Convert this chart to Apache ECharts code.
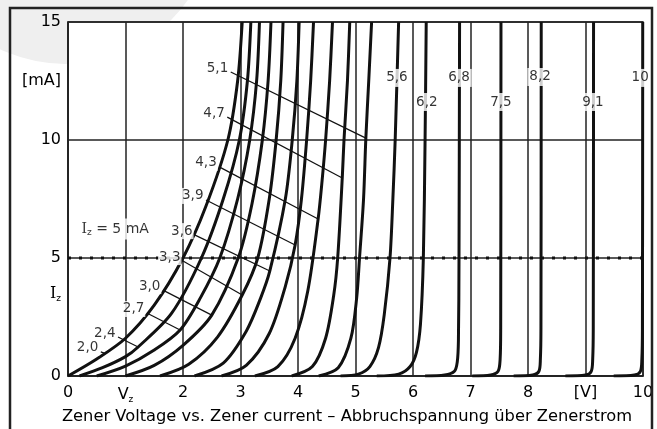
<!DOCTYPE html>
<html>
<head>
<meta charset="utf-8">
<script src="https://cdn.jsdelivr.net/npm/echarts@6/dist/echarts.min.js"></script>
<style>
  html, body { margin: 0; padding: 0; background: #fff; }
  #chart { width: 657px; height: 429px; }
</style>
</head>
<body>
<div id="chart"></div>
<script>
// Zener curves, points as [voltage V, current mA]
const zenerNames = ['2,0', '2,4', '2,7', '3,0', '3,3', '3,6', '3,9', '4,3', '4,7', '5,1',
                    '5,6', '6,2', '6,8', '7,5', '8,2', '9,1', '10'];
const zener20 = [[0, 0], [0.5, 0.72], [1, 1.6], [1.5, 3.0], [2, 5], [2.4, 7.2], [2.78, 10], [2.95, 12.5], [3.03, 15]];
const zener24 = [[0.2, 0], [0.6, 0.35], [1, 0.82], [1.22, 1.23], [1.8, 2.65], [2.32, 5], [2.7, 7.5], [2.98, 10], [3.12, 12.5], [3.18, 15]];
const zener27 = [[0.5, 0], [1, 0.42], [1.5, 1.1], [1.95, 1.95], [2.3, 3.3], [2.64, 5], [2.95, 7.5], [3.16, 10], [3.28, 12.5], [3.33, 15]];
const zener30 = [[1.0, 0], [1.5, 0.45], [2, 1.3], [2.5, 2.58], [2.96, 5], [3.2, 7.3], [3.38, 10], [3.48, 12.5], [3.53, 15]];
const zener33 = [[1.6, 0], [2.1, 0.5], [2.6, 1.65], [3.03, 3.43], [3.3, 5], [3.5, 7.5], [3.62, 10], [3.7, 12.5], [3.74, 15]];
const zener36 = [[2.2, 0], [2.7, 0.55], [3.1, 1.9], [3.35, 3.3], [3.51, 4.45], [3.78, 7.5], [3.9, 10], [3.98, 12.5], [4.02, 15]];
const zener39 = [[2.67, 0], [3.1, 0.45], [3.5, 1.8], [3.78, 3.8], [3.95, 5.55], [4.06, 7.5], [4.15, 10], [4.22, 12.5], [4.27, 15]];
const zener43 = [[3.25, 0], [3.65, 0.4], [3.95, 1.6], [4.17, 3.6], [4.35, 6.65], [4.42, 8.3], [4.48, 10], [4.55, 12.5], [4.6, 15]];
const zener47 = [[3.89, 0], [4.25, 0.4], [4.48, 1.6], [4.62, 3.4], [4.69, 5], [4.77, 8.4], [4.8, 10], [4.86, 12.5], [4.9, 15]];
const zener51 = [[4.36, 0], [4.7, 0.35], [4.92, 1.6], [5.02, 3.3], [5.07, 5], [5.14, 7.5], [5.18, 10.08], [5.23, 12.5], [5.28, 15]];
const zener56 = [[4.74, 0], [5.05, 0.08], [5.25, 0.4], [5.4, 1.2], [5.5, 2.6], [5.6, 5], [5.65, 7.5], [5.69, 10], [5.75, 15]];
const zener62 = [[5.37, 0], [5.75, 0.08], [5.95, 0.4], [6.06, 1.0], [6.13, 2.2], [6.18, 5], [6.21, 10], [6.23, 15]];
const zener68 = [[6.21, 0], [6.55, 0.04], [6.72, 0.2], [6.77, 0.6], [6.79, 1.5], [6.8, 5], [6.81, 15]];
const zener75 = [[7.03, 0], [7.35, 0.04], [7.48, 0.2], [7.515, 0.7], [7.525, 2], [7.53, 15]];
const zener82 = [[7.75, 0], [8.08, 0.04], [8.19, 0.2], [8.215, 0.7], [8.225, 2], [8.23, 15]];
const zener91 = [[8.65, 0], [9.0, 0.04], [9.1, 0.2], [9.125, 0.7], [9.135, 2], [9.14, 15]];
const zener100 = [[9.49, 0], [9.85, 0.04], [9.955, 0.2], [9.98, 0.7], [9.99, 2], [9.995, 15]];
const zenerCurves = [zener20, zener24, zener27, zener30, zener33, zener36, zener39, zener43, zener47, zener51,
                     zener56, zener62, zener68, zener75, zener82, zener91, zener100];

// slanted pointer lines of the low voltage curves: from the label to the curve
const pointerFrom = [[0.57, 1.02], [0.87, 1.65], [1.37, 2.67], [1.65, 3.64], [2.0, 4.87],
                     [2.21, 5.97], [2.40, 7.46], [2.63, 8.86], [2.77, 10.97], [2.83, 12.88]];
const pointerTo = [[0.63, 0.97], [1.22, 1.23], [1.95, 1.95], [2.5, 2.58], [3.03, 3.43],
                   [3.51, 4.45], [3.95, 5.55], [4.35, 6.65], [4.77, 8.39], [5.18, 10.08]];
// labels of the steep curves (5,6 ... 10), sitting on the curve
const steepLabelAt = [[5.72, 12.63], [6.24, 11.61], [6.8, 12.63], [7.53, 11.61], [8.21, 12.67], [9.13, 11.61], [9.95, 12.63]];

const izLevel = 5;
const izLabelAt = [0.82, 6.23];
const xTickLabels = ['0', 'Vz', '2', '3', '4', '5', '6', '7', '8', '[V]', '10'];
const yTickLabels = { 0: '0', 3.5: 'Iz', 5: '5', 10: '10', 12.5: '[mA]', 15: '15' };

const font = 'DejaVu Sans';
const ink = '#000';
const subRich = {
  v: { fontSize: 16, fontFamily: font, color: ink },
  i: { fontSize: 16, fontFamily: 'DejaVu Serif', color: ink },
  s: { fontSize: 9, fontFamily: font, color: ink, padding: [10, 0, 0, 0] }
};

let myChart = echarts.init(document.getElementById('chart'));

let series = zenerCurves.map(function (pts, i) {
  return {
    name: zenerNames[i],
    type: 'line',
    data: pts,
    smooth: 0.3,
    showSymbol: false,
    lineStyle: { color: '#111', width: 3 },
    z: 3
  };
});

// dotted Iz = 5 mA line
series.push({
  type: 'line',
  data: [[0, izLevel], [10, izLevel]],
  showSymbol: false,
  lineStyle: { color: '#111', width: 3, type: [3, 8] },
  z: 4
});

series.push({
  type: 'lines',
  coordinateSystem: 'cartesian2d',
  data: pointerFrom.map(function (p, i) { return { coords: [p, pointerTo[i]] }; }),
  lineStyle: { color: '#111', width: 1.2, opacity: 1 },
  z: 5
});

series.push({
  type: 'scatter',
  symbolSize: 1,
  itemStyle: { color: 'transparent' },
  data: pointerFrom.map(function (p, i) { return { value: p, name: zenerNames[i] }; }),
  label: {
    show: true, position: 'left', distance: 1, offset: [0, -4],
    formatter: '{b}', fontFamily: font, fontSize: 13.5, color: ink,
    backgroundColor: '#fff', padding: [1, 1]
  },
  z: 6
});

series.push({
  type: 'scatter',
  symbolSize: 1,
  itemStyle: { color: 'transparent' },
  data: steepLabelAt.map(function (p, i) { return { value: p, name: zenerNames[10 + i] }; }),
  label: {
    show: true, position: 'inside',
    formatter: '{b}', fontFamily: font, fontSize: 13.5, color: ink,
    textBorderWidth: 0, backgroundColor: '#fff', padding: [2, 2]
  },
  z: 6
});

series.push({
  type: 'scatter',
  symbolSize: 1,
  itemStyle: { color: 'transparent' },
  data: [{ value: izLabelAt }],
  label: {
    show: true, position: 'inside', textBorderWidth: 0,
    formatter: '{i|I}{s|z}{t| = 5 mA}', rich: {
      i: { fontSize: 14, fontFamily: 'DejaVu Serif', color: ink },
      s: { fontSize: 9, fontFamily: font, color: ink, padding: [8, 0, 0, 0] },
      t: { fontSize: 14, fontFamily: font, color: ink }
    },
    backgroundColor: '#fff', padding: [2, 4]
  },
  z: 6
});

let option = {
  animation: false,
  title: {
    text: 'Zener Voltage vs. Zener current – Abbruchspannung über Zenerstrom',
    left: 342, top: 404, textAlign: 'center',
    textStyle: { fontFamily: font, fontSize: 16.3, fontWeight: 'normal', color: ink }
  },
  graphic: [
    { type: 'circle', shape: { cx: 65, cy: -86, r: 150 }, style: { fill: '#efefef' }, z: -100, silent: true },
    { type: 'rect', shape: { x: 10, y: 8, width: 642, height: 440 }, style: { fill: 'none', stroke: '#222', lineWidth: 2.5 }, z: 100, silent: true }
  ],
  grid: {
    left: 68, top: 22, right: 14, bottom: 53,
    show: true, backgroundColor: '#fff', borderColor: '#222', borderWidth: 1.5
  },
  xAxis: {
    type: 'value', min: 0, max: 10, interval: 1,
    axisLine: { show: true, lineStyle: { color: '#222', width: 1.5 } },
    axisTick: { show: false },
    splitLine: { show: true, lineStyle: { color: '#222', width: 1.5 } },
    axisLabel: {
      margin: 9, fontFamily: font, fontSize: 16, color: ink,
      formatter: function (v) {
        let t = xTickLabels[Math.round(v)];
        return t === 'Vz' ? '{v|V}{s|z}' : t;
      },
      rich: subRich
    }
  },
  yAxis: [{
    type: 'value', min: 0, max: 15, interval: 5,
    axisLine: { show: true, lineStyle: { color: '#222', width: 1.5 } },
    axisTick: { show: false },
    splitLine: { show: true, lineStyle: { color: '#222', width: 1.5 } },
    axisLabel: { show: false }
  }, {
    type: 'value', min: 0, max: 15, interval: 0.5, position: 'left',
    axisLine: { show: false }, axisTick: { show: false }, splitLine: { show: false },
    axisLabel: {
      margin: 7, fontFamily: font, fontSize: 16, color: ink,
      formatter: function (v) {
        let t = yTickLabels[v] || '';
        return t === 'Iz' ? '{i|I}{s|z}' : t;
      },
      rich: subRich
    }
  }],
  series: series
};

myChart.setOption(option);
</script>
</body>
</html>
